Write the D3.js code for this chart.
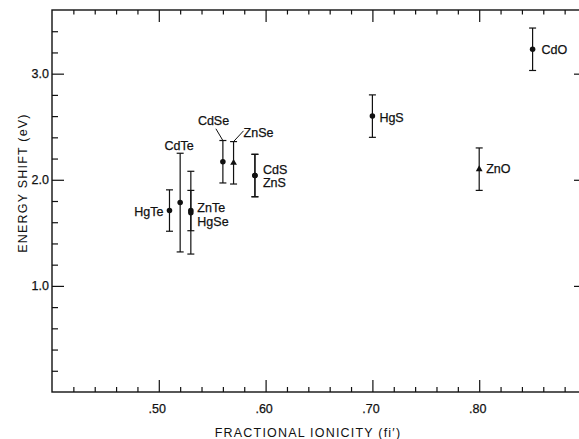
<!DOCTYPE html>
<html>
<head>
<meta charset="utf-8">
<script src="https://cdn.jsdelivr.net/npm/d3@7"></script>
<style>
  body { margin: 0; background: #fff; }
  svg text { font-family: "Liberation Sans", Arial, sans-serif; fill: #111; stroke: #111; stroke-width: 0.25px; }
  svg text.title { stroke: none; }
</style>
</head>
<body>
<script>
// values
var compounds = ["HgTe", "CdTe", "ZnTe", "HgSe", "CdSe", "ZnSe", "CdS", "ZnS", "HgS", "ZnO", "CdO"];
var ionicity  = [0.51, 0.52, 0.53, 0.53, 0.56, 0.57, 0.59, 0.59, 0.70, 0.80, 0.85];
var shift     = [1.71, 1.785, 1.71, 1.69, 2.17, 2.16, 2.04, 2.04, 2.60, 2.10, 3.23];
var errorBar  = [0.195, 0.465, 0.19, 0.39, 0.20, 0.20, 0.20, 0.20, 0.20, 0.20, 0.20];
var marker    = ["circle", "circle", "circle", "circle", "circle", "triangle", "circle", "circle", "circle", "triangle", "circle"];

var xMajorTicks = [0.50, 0.60, 0.70, 0.80];
var xTickLabels = [".50", ".60", ".70", ".80"];
var yMajorTicks = [1.0, 2.0, 3.0];
var yTickLabels = ["1.0", "2.0", "3.0"];

// label placement (pixels from the point), plus leader lines for two of them
var labelPos = {
  HgTe: {dx: -6, dy: 5, anchor: "end"},
  CdTe: {dx: -1, dy: -53, anchor: "middle"},
  ZnTe: {dx: 6.5, dy: 1, anchor: "start"},
  HgSe: {dx: 6.5, dy: 13, anchor: "start"},
  CdSe: {dx: -25, dy: -36.5, anchor: "start", leader: [-7, -33]},
  ZnSe: {dx: 10, dy: -26, anchor: "start", leader: [10, -32]},
  CdS:  {dx: 8, dy: -1.5, anchor: "start"},
  ZnS:  {dx: 8, dy: 11.5, anchor: "start"},
  HgS:  {dx: 7, dy: 5.5, anchor: "start"},
  ZnO:  {dx: 7, dy: 4, anchor: "start"},
  CdO:  {dx: 9, dy: 4.5, anchor: "start"}
};

var dataset = compounds.map(function(c, i) {
  return {name: c, fi: ionicity[i], e: shift[i], err: errorBar[i], marker: marker[i]};
});

var width = 579, height = 439;
var frame = {left: 52, right: 586, top: 10, bottom: 392};

var svg = d3.select("body").append("svg")
    .attr("width", width)
    .attr("height", height);

var x = d3.scaleLinear().domain([0.40, 0.90]).range([frame.left, frame.right]);
var y = d3.scaleLinear().domain([0, 3.6]).range([frame.bottom, frame.top]);

// minor ticks every .02 / every 0.2
var xMinorTicks = d3.range(21, 45).map(function(k) { return k / 50; })
    .filter(function(v) { return xMajorTicks.indexOf(v) < 0; });
var yMinorTicks = d3.range(1, 18).map(function(k) { return k / 5; })
    .filter(function(v) { return yMajorTicks.indexOf(v) < 0; });

function styleAxis(g) {
  g.select(".domain").remove();
  g.selectAll("line").attr("stroke", "#111").attr("stroke-width", 1.2);
  g.selectAll("text").attr("font-size", "12.5px").attr("fill", "#111");
}

// bottom
svg.append("g").attr("transform", "translate(0," + frame.bottom + ")")
  .call(d3.axisBottom(x).tickValues(xMajorTicks).tickSize(-12).tickPadding(12)
    .tickFormat(function(d, i) { return xTickLabels[i]; }))
  .call(styleAxis)
  .selectAll("text").attr("dx", "-2px");
svg.append("g").attr("transform", "translate(0," + frame.bottom + ")")
  .call(d3.axisBottom(x).tickValues(xMinorTicks).tickSize(-5).tickFormat(""))
  .call(styleAxis);

// top
svg.append("g").attr("transform", "translate(0," + frame.top + ")")
  .call(d3.axisTop(x).tickValues(xMajorTicks).tickSize(-12).tickFormat(""))
  .call(styleAxis);
svg.append("g").attr("transform", "translate(0," + frame.top + ")")
  .call(d3.axisTop(x).tickValues(xMinorTicks).tickSize(-4.5).tickFormat(""))
  .call(styleAxis);

// left
svg.append("g").attr("transform", "translate(" + frame.left + ",0)")
  .call(d3.axisLeft(y).tickValues(yMajorTicks).tickSize(-12).tickPadding(3)
    .tickFormat(function(d, i) { return yTickLabels[i]; }))
  .call(styleAxis);
svg.append("g").attr("transform", "translate(" + frame.left + ",0)")
  .call(d3.axisLeft(y).tickValues(yMinorTicks).tickSize(-6).tickFormat(""))
  .call(styleAxis);

// right
svg.append("g").attr("transform", "translate(" + frame.right + ",0)")
  .call(d3.axisRight(y).tickValues(yMajorTicks).tickSize(-12).tickFormat(""))
  .call(styleAxis);

// frame
svg.append("rect")
  .attr("x", frame.left).attr("y", frame.top)
  .attr("width", frame.right - frame.left).attr("height", frame.bottom - frame.top)
  .attr("fill", "none").attr("stroke", "#111").attr("stroke-width", 1.4);

// axis titles
svg.append("text")
  .attr("class", "title")
  .attr("transform", "translate(27,183) rotate(-90)")
  .attr("text-anchor", "middle")
  .attr("font-size", "12.5px")
  .attr("letter-spacing", "1.2px")
  .text("ENERGY SHIFT (eV)");
svg.append("text")
  .attr("class", "title")
  .attr("x", 308).attr("y", 437)
  .attr("text-anchor", "middle")
  .attr("font-size", "12.5px")
  .attr("letter-spacing", "1.2px")
  .text("FRACTIONAL IONICITY (fi\u2032)");

// error bars
var bars = svg.append("g").attr("stroke", "#111").attr("stroke-width", 1.2);
var cap = 3.5;
dataset.forEach(function(d) {
  var cx = x(d.fi), y0 = y(d.e - d.err), y1 = y(d.e + d.err);
  bars.append("line").attr("x1", cx).attr("x2", cx).attr("y1", y0).attr("y2", y1);
  bars.append("line").attr("x1", cx - cap).attr("x2", cx + cap).attr("y1", y0).attr("y2", y0);
  bars.append("line").attr("x1", cx - cap).attr("x2", cx + cap).attr("y1", y1).attr("y2", y1);
});

// markers
svg.append("g").selectAll("path")
  .data(dataset)
  .enter()
  .append("path")
    .attr("transform", function(d) { return "translate(" + x(d.fi) + "," + y(d.e) + ")"; })
    .attr("d", function(d) {
      return d3.symbol().type(d.marker === "triangle" ? d3.symbolTriangle : d3.symbolCircle)
        .size(d.marker === "triangle" ? 20 : 24)();
    })
    .attr("fill", "#111");

// labels
svg.append("g").selectAll("text")
  .data(dataset)
  .enter()
  .append("text")
    .attr("x", function(d) { return x(d.fi) + labelPos[d.name].dx; })
    .attr("y", function(d) { return y(d.e) + labelPos[d.name].dy; })
    .attr("text-anchor", function(d) { return labelPos[d.name].anchor; })
    .attr("font-size", "12.5px")
    .text(function(d) { return d.name; });

// leader lines
dataset.filter(function(d) { return labelPos[d.name].leader; }).forEach(function(d) {
  var l = labelPos[d.name].leader;
  svg.append("line")
    .attr("x1", x(d.fi)).attr("y1", y(d.e + d.err))
    .attr("x2", x(d.fi) + l[0]).attr("y2", y(d.e) + l[1])
    .attr("stroke", "#111").attr("stroke-width", 1);
});
</script>
</body>
</html>
